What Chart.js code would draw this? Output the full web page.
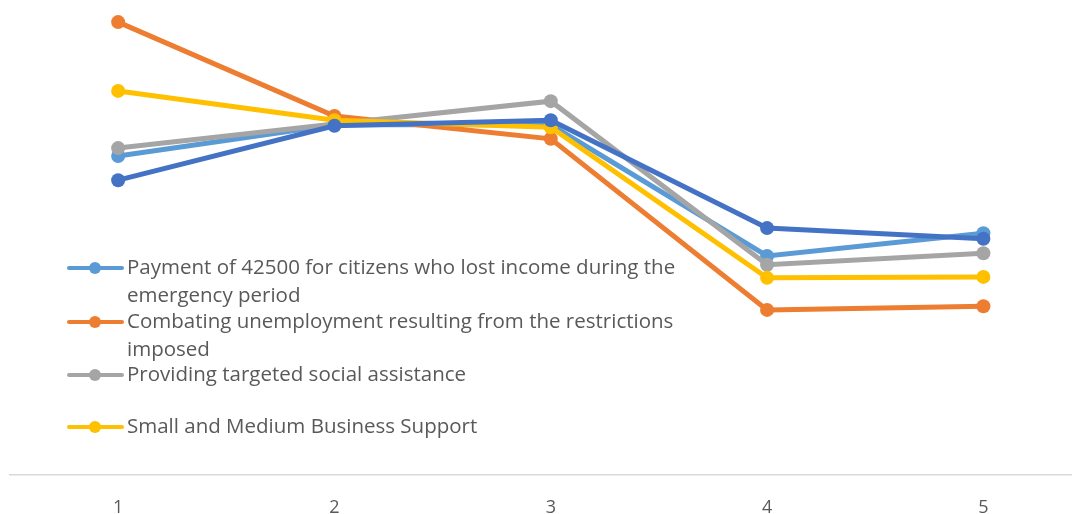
<!DOCTYPE html>
<html>
<head>
<meta charset="utf-8">
<script src="https://cdn.jsdelivr.net/npm/chart.js@4"></script>
<style>
  html, body { margin: 0; padding: 0; background: #fff; }
  #wrap { width: 1078px; height: 514px; position: relative; }
</style>
</head>
<body>
<div id="wrap"><canvas id="chart"></canvas></div>
<script>
// categories on the x axis
const categories = [1, 2, 3, 4, 5];

// series names (the fifth series has no legend entry in the picture)
const seriesNames = [
  'Payment of 42500 for citizens who lost income during the emergency period',
  'Combating unemployment resulting from the restrictions imposed',
  'Providing targeted social assistance',
  'Small and Medium Business Support',
  ''
];

// values (no y axis shown, so the scale is relative)
const paymentVals  = [68.6, 75.3, 75.3, 47.1, 52.0];
const unemployVals = [97.4, 77.2, 72.3, 35.5, 36.3];
const socialVals   = [70.3, 75.5, 80.4, 45.2, 47.7];
const businessVals = [82.6, 76.3, 74.8, 42.4, 42.6];
const fifthVals    = [63.4, 75.1, 76.3, 53.1, 50.8];

const colors = ['#5B9BD5', '#ED7D31', '#A5A5A5', '#FFC000', '#4472C4'];
const allVals = [paymentVals, unemployVals, socialVals, businessVals, fifthVals];

const FONT = '"Open Sans", "Noto Sans", sans-serif';
const TEXT = '#595959';

// legend drawn inside the plot, like the original
const insideLegend = {
  id: 'insideLegend',
  afterDatasetsDraw(chart) {
    const ctx = chart.ctx;
    ctx.save();
    ctx.font = '20.5px ' + FONT;
    ctx.textBaseline = 'middle';
    const textX = 127, maxW = 575;
    const rowY = [268, 322, 375, 427];
    for (let i = 0; i < 4; i++) {
      const y = rowY[i];
      // marker
      ctx.strokeStyle = colors[i];
      ctx.lineWidth = 4;
      ctx.lineCap = 'round';
      ctx.beginPath();
      ctx.moveTo(69, y);
      ctx.lineTo(122, y);
      ctx.stroke();
      ctx.fillStyle = colors[i];
      ctx.beginPath();
      ctx.arc(95, y, 6, 0, Math.PI * 2);
      ctx.fill();
      // wrapped label
      const words = seriesNames[i].split(' ');
      let lines = [], cur = '';
      words.forEach(w => {
        const test = cur ? cur + ' ' + w : w;
        if (ctx.measureText(test).width > maxW && cur) { lines.push(cur); cur = w; }
        else cur = test;
      });
      lines.push(cur);
      ctx.fillStyle = TEXT;
      lines.forEach((l, k) => ctx.fillText(l, textX, y + k * 28.5));
    }
    ctx.restore();
  }
};

const datasets = allVals.map((vals, i) => ({
  label: seriesNames[i],
  data: categories.map((c, k) => ({ x: c, y: vals[k] })),
  borderColor: colors[i],
  backgroundColor: colors[i],
  borderWidth: 5,
  pointRadius: 7,
  pointHoverRadius: 7,
  pointBorderWidth: 0,
  tension: 0,
  order: 4 - i
}));

new Chart(document.getElementById('chart'), {
  type: 'line',
  data: { datasets },
  options: {
    responsive: true,
    maintainAspectRatio: false,
    animation: false,
    layout: { padding: { top: 10, left: 10, right: 0, bottom: 0 } },
    plugins: { legend: { display: false }, tooltip: { enabled: false } },
    scales: {
      x: {
        type: 'linear',
        min: 0.5,
        max: 5.405,
        afterBuildTicks(scale) {
          scale.ticks = categories.map(c => ({ value: c }));
        },
        afterFit(scale) { scale.height = 39; },
        grid: { display: false, drawTicks: false },
        border: { display: true, color: '#D9D9D9', width: 1.5 },
        ticks: {
          color: TEXT,
          font: { family: FONT, size: 18 },
          padding: 22,
          maxRotation: 0,
          autoSkip: false
        }
      },
      y: {
        display: false,
        min: 0,
        max: 100
      }
    }
  },
  plugins: [insideLegend]
});
</script>
</body>
</html>
